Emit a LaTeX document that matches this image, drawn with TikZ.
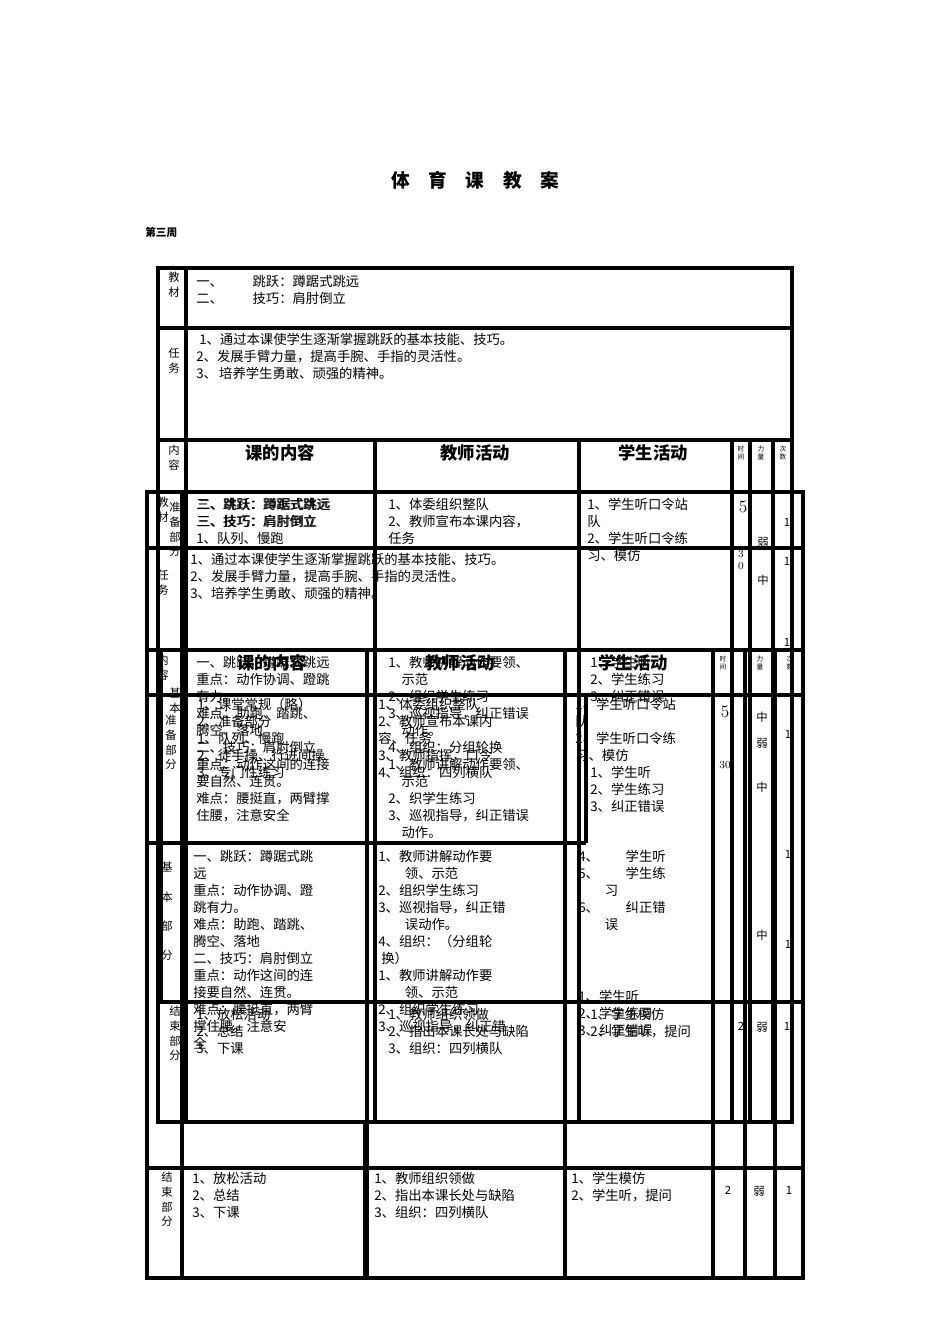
\documentclass[tikz,border=0pt]{standalone}
\usepackage{fontspec}
\newfontfamily\cjk{Noto Sans CJK SC}
\begin{document}
\begin{tikzpicture}[x=0.75pt,y=-0.75pt,
  L/.style={line width=2.8pt},
  t/.style={anchor=north west,inner sep=0,align=left,font=\cjk\fontsize{10}{12.75}\selectfont},
  vl/.style={anchor=north,inner sep=0,align=center,font=\cjk\fontsize{8.5}{11}\selectfont},
  hd/.style={anchor=center,inner sep=0,font=\cjk\bfseries\fontsize{13}{15}\selectfont},
  sm/.style={anchor=north,inner sep=0,align=center,font=\cjk\fontsize{5}{6}\selectfont}]
\useasboundingbox[fill=white] (0,0) rectangle (950,1344);
\node[inner sep=0,font=\cjk\bfseries\fontsize{14}{16}\selectfont] (title) at (475,180) {体\quad 育\quad 课\quad 教\quad 案};
\node[inner sep=0,anchor=west,font=\cjk\bfseries\fontsize{8}{9}\selectfont] (week) at (145,232) {第三周};
% ---------- layer A ----------
\draw[L] (158,268) rectangle (792,1122);
\draw[L] (186,268) -- (186,1122);
\draw[L] (158,328) -- (792,328);
\draw[L] (158,440) -- (792,440);
\foreach \x in {375,579,732,750,773}{\draw[L] (\x,440) -- (\x,1122);}
% ---------- layer B ----------
\draw[L] (147,492) rectangle (803,1278);
\draw[L] (182,492) -- (182,1278);
\draw[L] (147,548) -- (803,548);
\draw[L] (147,650) -- (803,650);
\draw[L] (147,695) -- (803,695);
\draw[L] (147,843) -- (586,843);
\draw[L] (586,695) -- (586,843);
\draw[L] (158,1002) -- (803,1002);
\draw[L] (147,1168) -- (803,1168);
\draw[L] (161,650) -- (161,1002);
\foreach \x in {367,565,713,745,775}{\draw[L] (\x,650) -- (\x,1278);}
\draw[L] (365,1122) -- (365,1278);
% ---------- layer A texts ----------
\node[vl] (a1) at (174,272) {教\\材};
\node[t] (a2) at (196,275) {一、\qquad\ 跳跃：蹲踞式跳远\\二、\qquad\ 技巧：肩肘倒立};
\node[vl] (a3) at (174,348) {任\\务};
\node[t] (a4) at (196,333) {\ 1、通过本课使学生逐渐掌握跳跃的基本技能、技巧。\\2、发展手臂力量，提高手腕、手指的灵活性。\\3、\,培养学生勇敢、顽强的精神。};
\node[vl] (a5) at (174,445) {内\\容};
\node[hd] (a6) at (280,453) {课的内容};
\node[hd] (a7) at (475,453) {教师活动};
\node[hd] (a8) at (653,453) {学生活动};
\node[sm] (a9) at (741,446) {时\\间};
\node[sm] (a10) at (761,446) {力\\量};
\node[sm] (a11) at (783,446) {次\\数};
\node[vl] (a12) at (175,502) {准\\备\\部\\分};
\node[t] (a13) at (196,498) {三、跳跃：蹲踞式跳远\\三、技巧：肩肘倒立\\1、队列、慢跑};
\node[t] (a14) at (388,498) {1、体委组织整队\\2、教师宣布本课内容，\\任务};
\node[t] (a15) at (587,498) {1、学生听口令站\\队\\2、学生听口令练\\习、模仿};
\node[inner sep=0,font=\fontsize{13}{14}\selectfont] (a16) at (743,507) {5};
\node[sm,font=\fontsize{8}{9}\selectfont] (a17) at (741,550) {3\\0};
\node[vl] (a18) at (763,537) {弱};
\node[vl] (a19) at (763,575) {中};
\node[vl] (a20) at (787,518) {1};
\node[vl] (a21) at (787,557) {1};
\node[vl] (a22) at (787,638) {1};
\node[vl] (a23) at (175,688) {基\\本};
\node[t] (a24) at (196,656) {一、跳跃：蹲踞式跳远\\重点：动作协调、蹬跳\\有力。\\难点：助跑、踏跳、\\腾空、落地\\二、技巧：肩肘倒立\\重点：动作这间的连接\\要自然、连贯。\\难点：腰挺直，两臂撑\\住腰，注意安全};
\node[t] (a25) at (388,656) {1、教师讲解动作要领、\\\quad 示范\\2、组织学生练习\\3、巡视指导，纠正错误\\\quad 动作。\\4、组织：分组轮换\\1、教师讲解动作要领、\\\quad 示范\\2、织学生练习\\3、巡视指导，纠正错误\\\quad 动作。};
\node[t] (a26) at (590,656) {1、学生听\\2、学生练习\\3、纠正错误};
\node[t] (a27) at (590,766) {1、学生听\\2、学生练习\\3、纠正错误};
\node[vl] (a28) at (175,1006) {结\\束\\部\\分};
\node[t] (a29) at (196,1008) {1、放松活动\\2、总结\\3、下课};
\node[t] (a30) at (388,1008) {1、教师组织领做\\2、指出本课长处与缺陷\\3、组织：四列横队};
\node[t] (a31) at (590,1008) {1、学生模仿\\2、学生听，提问};
\node[vl] (a32) at (741,1022) {2};
\node[vl] (a33) at (762,1022) {弱};
\node[vl] (a34) at (787,1022) {1};
% ---------- layer B texts ----------
\node[vl] (b1) at (163,497) {教\\材};
\node[t] (b2) at (197,498) {二、跳跃：蹲踞式跳远\\三、技巧：肩肘倒立};
\node[vl] (b3) at (163,570) {任\\务};
\node[t] (b4) at (190,553) {1、通过本课使学生逐渐掌握跳跃的基本技能、技巧。\\2、发展手臂力量，提高手腕、手指的灵活性。\\3、培养学生勇敢、顽强的精神。};
\node[vl] (b5) at (163,655) {内\\容};
\node[hd] (b6) at (272,663) {课的内容};
\node[hd] (b7) at (460,663) {教师活动};
\node[hd] (b8) at (633,663) {学生活动};
\node[sm] (b9) at (723,656) {时\\间};
\node[sm] (b10) at (760,656) {力\\量};
\node[sm] (b11) at (790,656) {次\\数};
\node[vl] (b12) at (171,715) {准\\备\\部\\分};
\node[t] (b13) at (197,698) {1、课堂常规（略）\\2、准备部分\\1、队列、慢跑\\2、徒手操、行进间操\\3、专门性练习};
\node[t] (b14) at (378,698) {1、体委组织整队\\2、教师宣布本课内\\容、任务\\3、教师指挥，口令\\4、组织：四列横队};
\node[t] (b15) at (575,698) {1、学生听口令站\\队\\2、学生听口令练\\习、模仿};
\node[inner sep=0,font=\fontsize{13}{14}\selectfont] (b16) at (725,712) {5};
\node[inner sep=0,font=\fontsize{8}{9}\selectfont] (b17) at (725,765) {30};
\node[vl] (b18) at (762,712) {中};
\node[vl] (b19) at (762,738) {弱};
\node[vl] (b20) at (762,782) {中};
\node[vl] (b21) at (788,730) {1};
\node[vl] (b22) at (788,850) {1};
\node[vl] (b23) at (788,940) {1};
\node[vl,font=\cjk\fontsize{8.5}{22}\selectfont] (b24) at (167,862) {基\\本\\部\\分};
\node[t] (b25) at (193,850) {一、跳跃：蹲踞式跳\\远\\重点：动作协调、蹬\\跳有力。\\难点：助跑、踏跳、\\腾空、落地\\二、技巧：肩肘倒立\\重点：动作这间的连\\接要自然、连贯。\\难点：腰挺直，两臂\\撑住腰，注意安\\全};
\node[t] (b26) at (378,850) {1、教师讲解动作要\\\qquad 领、示范\\2、组织学生练习\\3、巡视指导，纠正错\\\qquad 误动作。\\4、组织：（分组轮\\\ 换）\\1、教师讲解动作要\\\qquad 领、示范\\2、组织学生练习\\3、巡视指导，纠正错};
\node[t] (b27) at (578,850) {4、\qquad 学生听\\5、\qquad 学生练\\\qquad 习\\6、\qquad 纠正错\\\qquad 误};
\node[t] (b28) at (578,990) {1、学生听\\2、学生练习\\3、纠正错误};
\node[vl] (b29) at (762,930) {中};
\node[vl] (b30) at (167,1172) {结\\束\\部\\分};
\node[t] (b31) at (192,1172) {1、放松活动\\2、总结\\3、下课};
\node[t] (b32) at (374,1172) {1、教师组织领做\\2、指出本课长处与缺陷\\3、组织：四列横队};
\node[t] (b33) at (571,1172) {1、学生模仿\\2、学生听，提问};
\node[vl] (b34) at (728,1186) {2};
\node[vl] (b35) at (759,1186) {弱};
\node[vl] (b36) at (789,1186) {1};
\end{tikzpicture}
\end{document}
